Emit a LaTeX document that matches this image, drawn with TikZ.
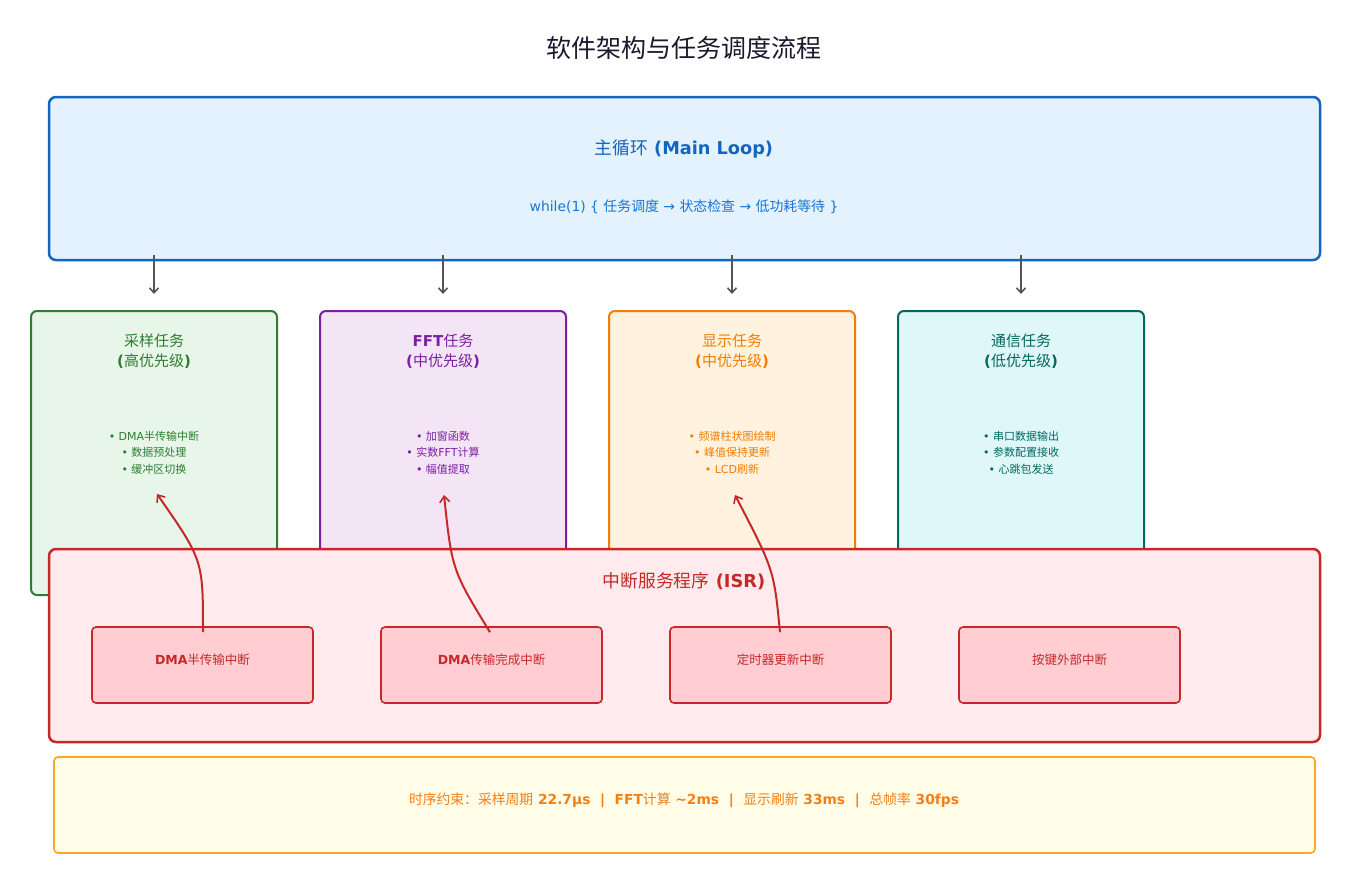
\documentclass[tikz,border=0pt]{standalone}
\usepackage{fontspec}
\setmainfont{DejaVu Sans}
\newfontfamily\cjkfont{Noto Sans CJK SC}
\usetikzlibrary{arrows.meta,calc}
\newcommand\zh[1]{{\cjkfont\mdseries #1}}
\definecolor{ttl}{HTML}{1A1A2E}
\definecolor{mainfill}{HTML}{E3F2FD}
\definecolor{mainline}{HTML}{1565C0}
\definecolor{mainsub}{HTML}{1976D2}
\definecolor{gfill}{HTML}{E8F5E9}
\definecolor{gline}{HTML}{2E7D32}
\definecolor{pfill}{HTML}{F3E5F5}
\definecolor{pline}{HTML}{7B1FA2}
\definecolor{ofill}{HTML}{FFF3E0}
\definecolor{oline}{HTML}{F57C00}
\definecolor{tfill}{HTML}{E0F7FA}
\definecolor{tline}{HTML}{00695C}
\definecolor{rfill}{HTML}{FFEBEE}
\definecolor{rline}{HTML}{C62828}
\definecolor{rsub}{HTML}{FFCDD2}
\definecolor{yfill}{HTML}{FFFDE7}
\definecolor{yline}{HTML}{F9A825}
\definecolor{ytext}{HTML}{F57F17}
\definecolor{arrgray}{HTML}{555555}
\tikzset{
  box/.style={draw, rounded corners=7pt, inner sep=0pt},
  taskbox/.style={box, line width=2pt, minimum width=246pt, minimum height=284pt, rounded corners=6pt},
  isrsub/.style={box, line width=1.6pt, draw=rline, fill=rsub, minimum width=221pt, minimum height=76pt, rounded corners=4pt},
  tasktitle/.style={align=center, font=\fontsize{15}{19.5}\selectfont\bfseries},
  bullets/.style={align=center, font=\fontsize{11}{16.5}\selectfont},
  subtext/.style={text=rline, font=\fontsize{12.5}{15}\selectfont\bfseries},
  grayarr/.style={draw=arrgray, line width=2pt, -{Straight Barb[length=5pt,width=9pt,line width=1.6pt]}},
  redarr/.style={draw=rline, line width=2pt, -{Straight Barb[length=6pt,width=10pt,line width=1.6pt]}},
}
\begin{document}
\begin{tikzpicture}[x=1pt,y=-1pt]
\useasboundingbox[fill=white] (0,0) rectangle (1368,887);
% title
\node[text=ttl, font=\fontsize{25}{28}\selectfont] (title) at (684,48) {\zh{软件架构与任务调度流程}};
% main loop
\node[box, line width=2.5pt, draw=mainline, fill=mainfill, minimum width=1271pt, minimum height=163pt] (main) at (684.5,178.5) {};
% task boxes
\node[taskbox, draw=gline, fill=gfill] (t1) at (154,453) {};
\node[taskbox, draw=pline, fill=pfill] (t2) at (443,453) {};
\node[taskbox, draw=oline, fill=ofill] (t3) at (732,453) {};
\node[taskbox, draw=tline, fill=tfill] (t4) at (1021,453) {};
\foreach \t in {t1,t2,t3,t4}{
  \draw[grayarr] ($(\t.north |- main.south)+(0,-6)$) -- ($(\t.north)+(0,-16)$);
}
\node[text=mainline, font=\fontsize{17.7}{22}\selectfont\bfseries] (mtitle) at (684,149) {\zh{主循环} (Main Loop)};
\node[text=mainsub, font=\fontsize{13.9}{17}\selectfont] (msub) at (684,207) {while(1) \{ \zh{任务调度} → \zh{状态检查} → \zh{低功耗等待} \}};
% task texts
\node[tasktitle, text=gline] (t1h) at (154,351) {\zh{采样任务}\\(\zh{高优先级})};
\node[tasktitle, text=pline] (t2h) at (443,351) {FFT\zh{任务}\\(\zh{中优先级})};
\node[tasktitle, text=oline] (t3h) at (732,351) {\zh{显示任务}\\(\zh{中优先级})};
\node[tasktitle, text=tline] (t4h) at (1021,351) {\zh{通信任务}\\(\zh{低优先级})};
\node[bullets, text=gline] (t1b) at (154,452.5) {• DMA\zh{半传输中断}\\• \zh{数据预处理}\\• \zh{缓冲区切换}};
\node[bullets, text=pline] (t2b) at (443,452.5) {• \zh{加窗函数}\\• \zh{实数}FFT\zh{计算}\\• \zh{幅值提取}};
\node[bullets, text=oline] (t3b) at (732,452.5) {• \zh{频谱柱状图绘制}\\• \zh{峰值保持更新}\\• LCD\zh{刷新}};
\node[bullets, text=tline] (t4b) at (1021,452.5) {• \zh{串口数据输出}\\• \zh{参数配置接收}\\• \zh{心跳包发送}};
% ISR
\node[box, line width=2.5pt, draw=rline, fill=rfill, minimum width=1271pt, minimum height=193pt] (isr) at (684.5,645.5) {};
\node[text=rline, font=\fontsize{17.8}{22}\selectfont\bfseries] (isrt) at (684,581) {\zh{中断服务程序} (ISR)};
\node[isrsub] (i1) at (202.5,665) {};
\node[isrsub] (i2) at (491.5,665) {};
\node[isrsub] (i3) at (780.5,665) {};
\node[isrsub] (i4) at (1069.5,665) {};
\node[subtext] (i1t) at (202.5,660) {DMA\zh{半传输中断}};
\node[subtext] (i2t) at (491.5,660) {DMA\zh{传输完成中断}};
\node[subtext] (i3t) at (780.5,660) {\zh{定时器更新中断}};
\node[subtext] (i4t) at (1069.5,660) {\zh{按键外部中断}};
% red curves
\coordinate (s1) at ($(i1.north)+(0.5,6)$);
\coordinate (e1) at ($(t1.center)+(3,41)$);
\coordinate (s2) at ($(i2.north)+(-1.5,6)$);
\coordinate (e2) at ($(t2.center)+(1,42)$);
\coordinate (s3) at ($(i3.north)+(-0.5,6)$);
\coordinate (e3) at ($(t3.center)+(3,42)$);
\draw[redarr] (s1) .. controls (203,560) .. (e1);
\draw[redarr] (s2) .. controls (452,570) .. (e2);
\draw[redarr] (s3) .. controls (774,570) .. (e3);
% bottom
\node[box, line width=1.6pt, draw=yline, fill=yfill, minimum width=1261pt, minimum height=96pt, rounded corners=4pt] (bot) at (684.5,805) {};
\node[text=ytext, font=\fontsize{13.8}{16}\selectfont\bfseries] (bott) at (684,800) {\zh{时序约束：采样周期} 22.7μs\ \ |\ \ FFT\zh{计算} \textasciitilde2ms\ \ |\ \ \zh{显示刷新} 33ms\ \ |\ \ \zh{总帧率} 30fps};
\end{tikzpicture}
\end{document}
